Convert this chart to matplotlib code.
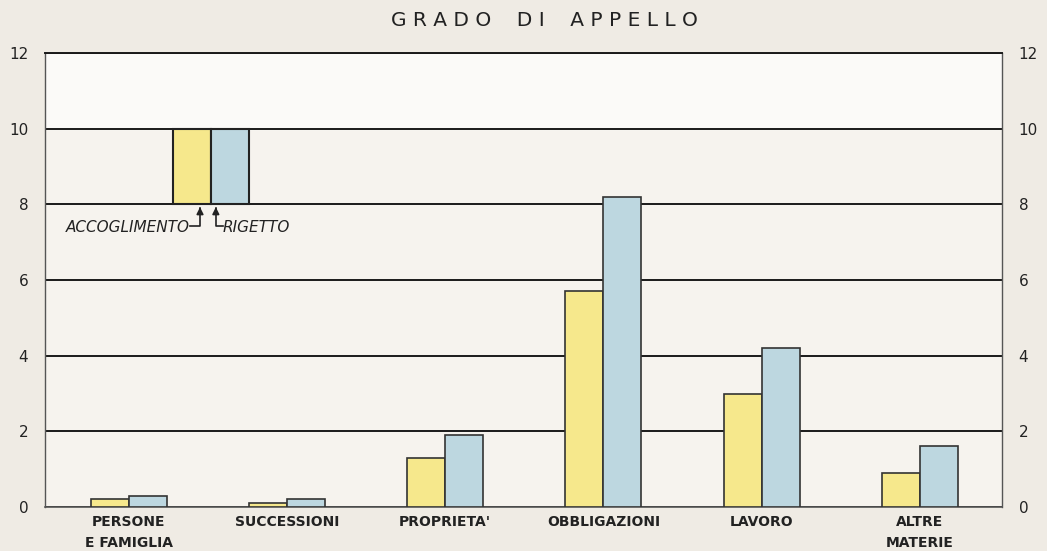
import matplotlib
matplotlib.use("Agg")
import matplotlib.pyplot as plt
import numpy as np

categories = ["PERSONE\nE FAMIGLIA", "SUCCESSIONI", "PROPRIETA'", "OBBLIGAZIONI", "LAVORO", "ALTRE\nMATERIE"]
accoglimento = [0.2, 0.1, 1.3, 5.7, 3.0, 0.9]
rigetto = [0.3, 0.2, 1.9, 8.2, 4.2, 1.6]
yticks = [0, 2, 4, 6, 8, 10, 12]
legend_labels = ["ACCOGLIMENTO", "RIGETTO"]

YELLOW = "#f6e88c"
BLUE = "#bdd7e0"
BG = "#efebe4"
PANEL = "#f6f3ee"

fig = plt.figure(figsize=(10.47, 5.51), dpi=100, facecolor=BG)
ax = fig.add_axes([45/1047, 1-507/551, 957/1047, 454/551])
ax.set_facecolor(PANEL)

x = np.arange(len(categories))
w = 0.24
ax.bar(x - w/2, accoglimento, w, color=YELLOW, edgecolor="#333333", linewidth=1.2, zorder=3)
ax.bar(x + w/2, rigetto, w, color=BLUE, edgecolor="#333333", linewidth=1.2, zorder=3)

# legend key drawn as bars
lx = 0.52
ax.bar(lx - w/2, 2, w, bottom=8, color=YELLOW, edgecolor="#222222", linewidth=1.5, zorder=3)
ax.bar(lx + w/2, 2, w, bottom=8, color=BLUE, edgecolor="#222222", linewidth=1.5, zorder=3)
ax.text(lx - 0.135, 7.4, legend_labels[0], ha="right", va="center", fontsize=11,
        style="italic", color="#222222", zorder=4)
ax.text(lx + 0.075, 7.4, legend_labels[1], ha="left", va="center", fontsize=11,
        style="italic", color="#222222", zorder=4)
# arrows
ax.plot([lx - 0.135, lx - 0.07, lx - 0.07], [7.42, 7.42, 7.9], color="#222222", lw=1.2, zorder=4)
ax.plot([lx + 0.075, lx + 0.03, lx + 0.03], [7.42, 7.42, 7.9], color="#222222", lw=1.2, zorder=4)
ax.annotate("", xy=(lx - 0.07, 8.0), xytext=(lx - 0.07, 7.7),
            arrowprops=dict(arrowstyle="-|>", color="#222222", lw=1.2, mutation_scale=10), zorder=4)
ax.annotate("", xy=(lx + 0.03, 8.0), xytext=(lx + 0.03, 7.7),
            arrowprops=dict(arrowstyle="-|>", color="#222222", lw=1.2, mutation_scale=10), zorder=4)

ax.set_xlim(-0.53, 5.52)
ax.set_ylim(0, 12)
ax.set_yticks(yticks)
ax.set_yticklabels([str(t) for t in yticks])
ax.axhspan(10, 12, color="#fbfaf8", zorder=0)
ax.yaxis.grid(True, color="#1a1a1a", linewidth=1.4, zorder=1)
ax.set_axisbelow(True)
ax.tick_params(axis="y", length=0, labelsize=11, pad=12, colors="#222222", labelright=True, right=False)
ax.set_xticks(x)
ax.set_xticklabels(categories, fontsize=10, fontweight="bold", color="#222222", linespacing=1.6)
ax.tick_params(axis="x", length=0, pad=6)

for s in ["left", "right"]:
    ax.spines[s].set_color("#555555")
    ax.spines[s].set_linewidth(1.0)
ax.spines["top"].set_color("#1a1a1a")
ax.spines["top"].set_linewidth(1.4)
ax.spines["bottom"].set_color("#555555")
ax.spines["bottom"].set_linewidth(1.2)

fig.text(0.52, 1-21/551, "G R A D O    D I    A P P E L L O", ha="center", va="center",
         fontsize=14.5, color="#222222")

fig.savefig("out.png", dpi=100, facecolor=BG)
